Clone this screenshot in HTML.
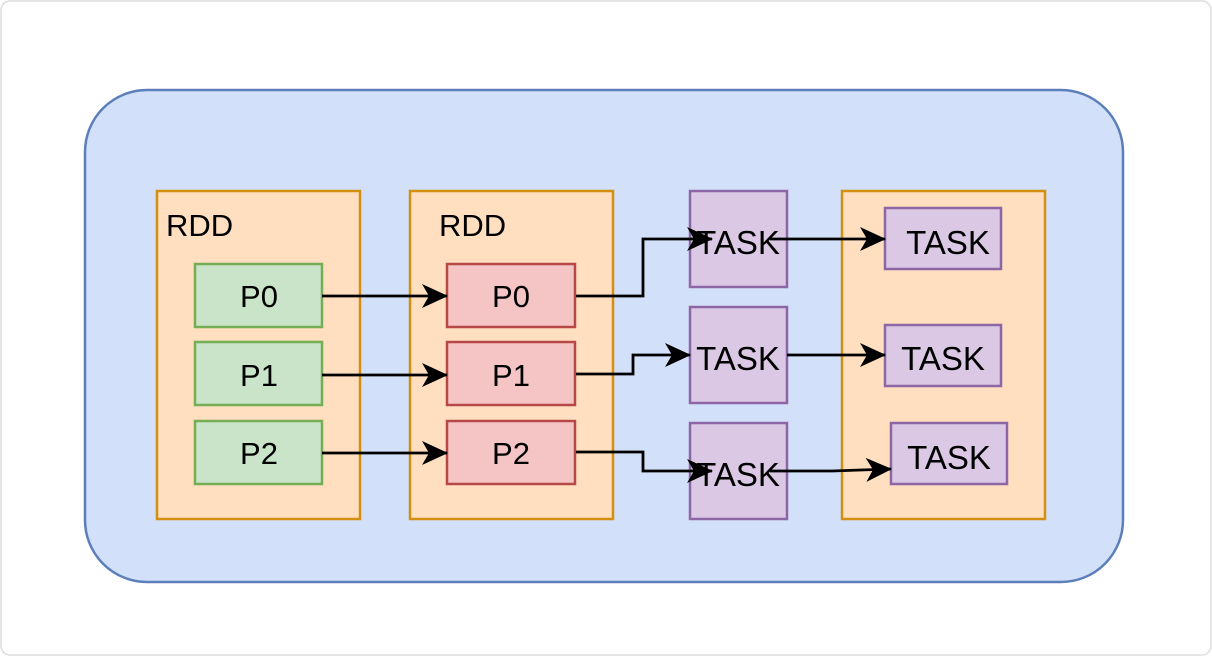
<!DOCTYPE html>
<html><head><meta charset="utf-8"><style>html,body{margin:0;padding:0;background:#fff}svg{display:block}</style></head>
<body>
<svg width="1212" height="656" viewBox="0 0 1212 656" xmlns="http://www.w3.org/2000/svg" font-family="Liberation Sans, sans-serif">
<defs>
<marker id="b" markerWidth="26" markerHeight="26" refX="25" refY="13" orient="auto" markerUnits="userSpaceOnUse" viewBox="0 0 26 26"><path d="M0,1 L26,13 L0,25 L7,13 Z" fill="#000"/></marker></defs>
<rect x="1" y="1" width="1210" height="654" rx="9" fill="#fff" stroke="#ddd" stroke-width="1.5"/>
<rect x="85" y="90" width="1038" height="492" rx="62" fill="#d2e1f9" stroke="#5b7fba" stroke-width="2.5"/>
<g fill="#ffdfc0" stroke="#d48f10" stroke-width="2.5">
<rect x="157" y="191" width="203" height="328"/>
<rect x="410" y="191" width="203" height="328"/>
<rect x="842" y="191" width="203" height="328"/>
</g>
<g font-size="31" fill="#000"><text x="166" y="236">RDD</text><text x="439" y="236">RDD</text></g>
<g fill="#c9e4c8" stroke="#75ad55" stroke-width="2.5">
<rect x="195" y="264" width="127" height="63"/><rect x="195" y="342" width="127" height="63"/><rect x="195" y="421" width="127" height="63"/>
</g>
<g fill="#f5c4c4" stroke="#b84848" stroke-width="2.5">
<rect x="447" y="264" width="128" height="63"/><rect x="447" y="342" width="128" height="63"/><rect x="447" y="421" width="128" height="63"/>
</g>
<g fill="#dac8e4" stroke="#8e66a6" stroke-width="2.5">
<rect x="690" y="191" width="97" height="96"/><rect x="690" y="307" width="97" height="96"/><rect x="690" y="423" width="97" height="96"/>
<rect x="885" y="208" width="116" height="61"/><rect x="885" y="325" width="116" height="61"/><rect x="891" y="423" width="116" height="61"/>
</g>
<g font-size="31" text-anchor="middle" fill="#000">
<text x="259" y="307">P0</text><text x="259" y="386">P1</text><text x="259" y="464">P2</text>
<text x="511" y="307">P0</text><text x="511" y="386">P1</text><text x="511" y="464">P2</text>
</g>
<g font-size="33" text-anchor="middle" fill="#000">
<text x="738" y="254">TASK</text><text x="738" y="370">TASK</text><text x="738" y="486">TASK</text>
<text x="948" y="254">TASK</text><text x="943" y="370">TASK</text><text x="949" y="469">TASK</text>
</g>
<g fill="none" stroke="#000" stroke-width="2.8" marker-end="url(#b)">
<path d="M322,296 H447"/><path d="M322,375 H447"/><path d="M322,453 H447"/>
<path d="M576,296 H643 V239 H712"/>
<path d="M576,374 H633 V355 H690"/>
<path d="M576,452 H643 V471 H712"/>
<path d="M770,239 H885"/>
<path d="M787,355 H885"/>
<path d="M770,471 H832 L891,469"/>
</g>
</svg>
</body></html>
